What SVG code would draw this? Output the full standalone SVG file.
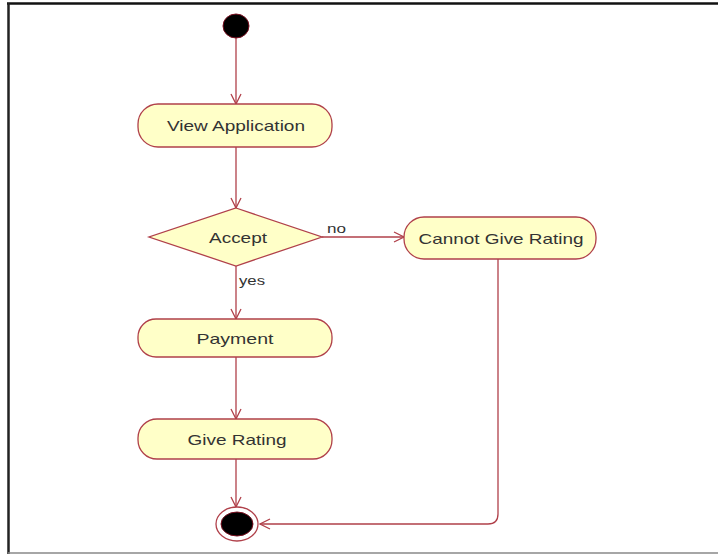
<svg xmlns="http://www.w3.org/2000/svg" width="718" height="554" viewBox="0 0 718 554">
  <style>
    .act { fill: #FFFFC8; stroke: #B0404A; stroke-width: 1.3; }
    .lbl { font-family: "Liberation Sans", Arial, sans-serif; font-size: 15px; fill: #333333; text-anchor: middle; dominant-baseline: central; }
    .edge { font-family: "Liberation Sans", Arial, sans-serif; font-size: 13px; fill: #333333; }
    .flow { fill: none; stroke: #B0404A; stroke-width: 1.3; marker-end: url(#open); }
  </style>
  <defs>
    <marker id="open" viewBox="0 0 12 12" refX="11" refY="6" markerWidth="12" markerHeight="12" markerUnits="userSpaceOnUse" orient="auto">
      <path d="M1,1 L11,6 L1,11" fill="none" stroke="#B0404A" stroke-width="1.3"/>
    </marker>
  </defs>
  <rect width="718" height="554" fill="#FFFFFF"/>
  <!-- page frame -->
  <g id="frame">
    <line x1="7" y1="3.5" x2="718" y2="3.5" stroke="#111111" stroke-width="2.5"/>
    <line x1="8.5" y1="3" x2="8.5" y2="554" stroke="#222222" stroke-width="2.5"/>
    <line x1="8" y1="553" x2="718" y2="553" stroke="#888888" stroke-width="1.5"/>
  </g>
  <g id="connectors">
    <path class="flow" d="M236,38 L236,104"/>
    <path class="flow" d="M236,147 L236,208"/>
    <path class="flow" d="M322,237 L404,237"/>
    <path class="flow" d="M236,266 L236,319"/>
    <path class="flow" d="M236,357 L236,419"/>
    <path class="flow" d="M236,459 L236,507"/>
    <path class="flow" d="M498,259 L498,514 Q498,524 488,524 L260,524"/>
    <text class="edge" x="327" y="233" textLength="19" lengthAdjust="spacingAndGlyphs">no</text>
    <text class="edge" x="239" y="285" textLength="26" lengthAdjust="spacingAndGlyphs">yes</text>
  </g>
  <g id="start">
    <ellipse cx="236" cy="26" rx="13" ry="12" fill="#000000" stroke="#7A1020" stroke-width="1"/>
  </g>
  <g id="view-application">
    <rect class="act" x="138" y="104" width="194" height="43" rx="20"/>
    <text class="lbl" x="236" y="125.5" textLength="138" lengthAdjust="spacingAndGlyphs">View Application</text>
  </g>
  <g id="accept">
    <polygon class="act" points="236,208 322,237 236,266 149,237"/>
    <text class="lbl" x="238" y="237" textLength="58" lengthAdjust="spacingAndGlyphs">Accept</text>
  </g>
  <g id="cannot-give-rating">
    <rect class="act" x="404" y="217" width="192" height="42" rx="20"/>
    <text class="lbl" x="501" y="238" textLength="165" lengthAdjust="spacingAndGlyphs">Cannot Give Rating</text>
  </g>
  <g id="payment">
    <rect class="act" x="138" y="319" width="194" height="38" rx="18"/>
    <text class="lbl" x="235" y="338" textLength="77" lengthAdjust="spacingAndGlyphs">Payment</text>
  </g>
  <g id="give-rating">
    <rect class="act" x="138" y="419" width="194" height="40" rx="19"/>
    <text class="lbl" x="237" y="439" textLength="99" lengthAdjust="spacingAndGlyphs">Give Rating</text>
  </g>
  <g id="end">
    <ellipse cx="237" cy="524" rx="21" ry="17" fill="#FFFFFF" stroke="#B0404A" stroke-width="1.3"/>
    <ellipse cx="237" cy="524" rx="16" ry="12" fill="#000000" stroke="#7A1020" stroke-width="1"/>
  </g>
</svg>
